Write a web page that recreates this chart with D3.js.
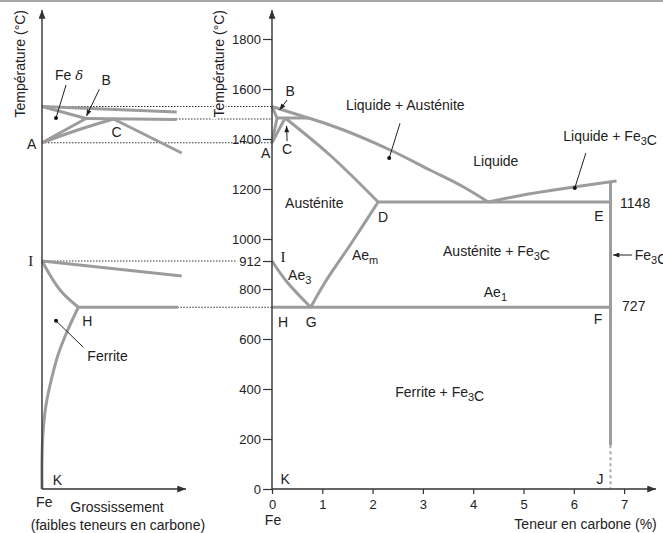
<!DOCTYPE html>
<html><head><meta charset="utf-8">
<script src="https://cdn.jsdelivr.net/npm/d3@7"></script>
<style>
body{margin:0;background:#fff}
svg text{font-family:"Liberation Sans",Arial,Helvetica,sans-serif;fill:#222}
</style>
</head><body>
<svg id="c" width="663" height="533"></svg>
<script>
// ---------- DATA ----------
// Temperature ticks (°C) and carbon ticks (%)
const ticksY = [0, 200, 400, 600, 800, 1000, 1200, 1400, 1600, 1800];
const extraTicksY = [912];
const ticksX = [0, 1, 2, 3, 4, 5, 6, 7];

// Right panel: [carbon %, T °C]
const liquidusR   = [[0,1530],[0.72,1484],[1.15,1456],[2.35,1356],[3.14,1276],[3.8,1209],[4.3,1148]];
const deltaSolR   = [[0,1530],[0.1,1484]];
const peritR      = [[0.1,1484],[0.72,1484]];
const gammaSolR   = [[0.26,1484],[1.15,1336],[2.11,1148]];
const deltaG1R    = [[0,1385],[0.1,1484]];
const deltaG2R    = [[0,1385],[0.26,1484]];
const eutecticR   = [[2.11,1148],[6.73,1148]];
const liqFe3CR    = [[4.3,1148],[5.1,1180],[6.0,1208],[6.85,1232]];
const cementiteR  = [[6.73,1232],[6.73,175]];
const cementiteDashR = [[6.73,175],[6.73,0]];
const eutectoidR  = [[0,727],[6.73,727]];
const ae3R        = [[0,912],[0.29,830],[0.77,727]];
const aemR        = [[0.77,727],[1.05,825],[1.6,990],[2.11,1148]];

// Left panel (magnified, relative units 0-100): [u, T °C]
const liquidusL   = [[0,1530],[94.2,1508]];
const deltaSolL   = [[0,1530],[30.8,1482]];
const peritL      = [[30.8,1482],[94.2,1478]];
const deltaG1L    = [[0,1385],[30.8,1482]];
const deltaG2L    = [[0,1385],[25,1436],[50,1480]];
const gammaSolL   = [[50,1480],[97.7,1344]];
const gammaAlphaL = [[0,912],[97.7,852]];
const ae3L        = [[0,912],[12.6,796],[25.4,727]];
const eutectoidL  = [[25.4,727],[95.1,727]];
const ferriteL    = [[25.4,727],[17.1,624],[11.2,536],[6.8,444],[2.8,336],[0.7,224],[0,116],[0,0]];

// Reference temperatures carried across panels (dotted)
const refTemps = [1530, 1480, 1385, 912, 727];

// ---------- SCALES ----------
const yT = d3.scaleLinear().domain([0,1800]).range([489,39]);
const xR = d3.scaleLinear().domain([0,7]).range([272,624.1]);
const xL = d3.scaleLinear().domain([0,100]).range([42,185]);

const svg = d3.select("#c");
svg.append("rect").attr("x",0).attr("y",0).attr("width",663).attr("height",2).attr("fill","#a6a6a6");

const defs = svg.append("defs");
defs.append("marker").attr("id","ax").attr("viewBox","0 0 10 8").attr("refX",10).attr("refY",4)
  .attr("markerWidth",10).attr("markerHeight",7).attr("markerUnits","userSpaceOnUse").attr("orient","auto")
  .append("path").attr("d","M0,0L10,4L0,8z").attr("fill","#333");
defs.append("marker").attr("id","pt").attr("viewBox","0 0 10 8").attr("refX",10).attr("refY",4)
  .attr("markerWidth",7).attr("markerHeight",5).attr("markerUnits","userSpaceOnUse").attr("orient","auto")
  .append("path").attr("d","M0,0L10,4L0,8z").attr("fill","#222");

const lineR = d3.line().x(d=>xR(d[0])).y(d=>yT(d[1]));
const lineL = d3.line().x(d=>xL(d[0])).y(d=>yT(d[1]));
const lineRc = d3.line().x(d=>xR(d[0])).y(d=>yT(d[1])).curve(d3.curveCatmullRom.alpha(0.5));
const lineRm = d3.line().x(d=>xR(d[0])).y(d=>yT(d[1])).curve(d3.curveMonotoneX);
const lineLc = d3.line().x(d=>xL(d[0])).y(d=>yT(d[1])).curve(d3.curveCatmullRom.alpha(0.5));

// ---------- DOTTED REFERENCE LINES ----------
const dotStarts = {1530: xL(0), 1480: xL(30.8), 1385: xL(0), 912: xL(0), 727: xL(25.4)};
const dotEnds = {1530: xR(0), 1480: xR(0), 1385: xR(0), 912: xR(0)-36, 727: xR(0)};
svg.append("g").selectAll("line").data(refTemps).join("line")
  .attr("x1",d=>dotStarts[d]).attr("x2",d=>dotEnds[d])
  .attr("y1",d=>yT(d)).attr("y2",d=>yT(d))
  .attr("stroke","#333").attr("stroke-width",1).attr("stroke-dasharray","1.5,1.5");

// ---------- THICK PHASE LINES ----------
const thick = svg.append("g").attr("fill","none").attr("stroke","#9c9c9c").attr("stroke-width",3)
  .attr("stroke-linejoin","round");
[liquidusL, deltaSolL, peritL, deltaG1L, gammaSolL, gammaAlphaL, eutectoidL].forEach(d=>thick.append("path").attr("d",lineL(d)));
[deltaG2L, ae3L, ferriteL].forEach(d=>thick.append("path").attr("d",lineLc(d)));
[deltaSolR, peritR, deltaG1R, deltaG2R, eutecticR, cementiteR, eutectoidR].forEach(d=>thick.append("path").attr("d",lineR(d)));
[gammaSolR, ae3R, aemR].forEach(d=>thick.append("path").attr("d",lineRc(d)));
[liquidusR, liqFe3CR].forEach(d=>thick.append("path").attr("d",lineRm(d)));
svg.append("path").attr("d",lineR(cementiteDashR)).attr("fill","none").attr("stroke","#aaa")
  .attr("stroke-width",2).attr("stroke-dasharray","3,3");

// ---------- AXES ----------
const font = '"Liberation Sans",Arial,Helvetica,sans-serif';
const gy = svg.append("g").attr("transform",`translate(${xR(0)},0)`)
  .call(d3.axisLeft(yT).tickValues(ticksY.concat(extraTicksY)).tickSize(9).tickPadding(2).tickFormat(d3.format("d")));
gy.select(".domain").remove();
gy.attr("font-family",font).attr("font-size",13);
gy.selectAll("line").attr("stroke","#333").attr("stroke-width",1.2);
gy.selectAll("text").attr("fill","#222");

const gx = svg.append("g").attr("transform",`translate(0,${yT(0)})`)
  .call(d3.axisBottom(xR).tickValues(ticksX).tickSize(5).tickPadding(6).tickFormat(d3.format("d")));
gx.select(".domain").remove();
gx.attr("font-family",font).attr("font-size",13);
gx.selectAll("line").attr("stroke","#333").attr("stroke-width",1.2);
gx.selectAll("text").attr("fill","#222");

const axisLines = [
  [xR(0), yT(0), xR(0), 10],
  [xR(0), yT(0), 656, yT(0)],
  [xL(0), yT(0), xL(0), 10],
  [xL(0), yT(0), 186, yT(0)]
];
svg.append("g").selectAll("line").data(axisLines).join("line")
  .attr("x1",d=>d[0]).attr("y1",d=>d[1]).attr("x2",d=>d[2]).attr("y2",d=>d[3])
  .attr("stroke","#333").attr("stroke-width",1.4).attr("marker-end","url(#ax)");

// axis titles
svg.append("text").attr("transform","translate(25,10) rotate(-90)").attr("text-anchor","end")
  .attr("font-size",14).text("Température (°C)");
svg.append("text").attr("transform","translate(224,10) rotate(-90)").attr("text-anchor","end")
  .attr("font-size",14).attr("stroke","#fff").attr("stroke-width",4).attr("paint-order","stroke")
  .text("Température (°C)");

// ---------- LABELS ----------
function label(x, y, str, anchor, opts={}) {
  const t = svg.append("text").attr("x",x).attr("y",y+5).attr("text-anchor",anchor||"start")
    .attr("font-size",opts.size||14);
  if (opts.serif) t.attr("style","font-family:'Liberation Serif','DejaVu Serif',serif");
  const parts = str.split(/(_.)/).filter(s=>s.length);
  parts.forEach(p=>{
    if (p[0]==="_") {
      t.append("tspan").attr("dy",4).attr("font-size",11).text(p[1]);
      t.append("tspan").attr("dy",-4).text("");
    } else t.append("tspan").text(p);
  });
  return t;
}

const labelsR = [
  ["B",0.36,1592,"middle"],["A",-0.125,1345,"middle"],["C",0.30,1360,"middle"],
  ["Liquide + Austénite",1.47,1536,"start"],["Liquide",4.45,1312,"middle"],
  ["Liquide + Fe_3C",5.79,1412,"start"],["Austénite",0.26,1144,"start"],
  ["D",2.21,1089,"middle"],["E",6.5,1092,"middle"],["1148",6.92,1146,"start"],
  ["Austénite + Fe_3C",3.40,952,"start"],["Ae_1",4.21,790,"start"],
  ["Fe_3C",7.21,936,"start"],["727",6.96,732,"start"],["F",6.48,680,"middle"],
  ["Ae_3",0.32,856,"start"],["Ae_m",1.59,936,"start"],
  ["H",0.22,668,"middle"],["G",0.78,668,"middle"],
  ["Ferrite + Fe_3C",2.45,388,"start"],["K",0.26,40,"middle"],["J",6.52,40,"middle"],
  ["Fe",0.02,-122,"middle"],["Teneur en carbone (%)",7.65,-140,"end"]
];
labelsR.forEach(d=>label(xR(d[1]), yT(d[2]), d[0], d[3]));
label(xR(0.22), yT(928), "I", "middle", {serif:true, size:15});

const labelsL = [
  ["B",44.8,1636,"middle"],["A",-7.2,1380,"middle"],["C",52.2,1429,"middle"],
  ["H",31.7,672,"middle"],["Ferrite",31.7,532,"start"],["K",10.7,36,"middle"],
  ["Fe",1.6,-51,"middle"],["Grossissement",52.4,-73,"middle"],
  ["(faibles teneurs en carbone)",53.1,-144,"middle"]
];
labelsL.forEach(d=>label(xL(d[1]), yT(d[2]), d[0], d[3]));
label(xL(-7.9), yT(912), "I", "middle", {serif:true, size:15});
const fd = label(xL(9.1), yT(1656), "Fe ", "start");
fd.append("tspan").attr("style","font-family:'DejaVu Serif',serif;font-style:italic").attr("font-size",13).text("δ");

// ---------- POINTERS ----------
const pointersR = [
  [0.30,1556,0.15,1516,"arrow"],[0.30,1392,0.29,1452,"arrow"],
  [2.545,1463,2.33,1324,"dot"],[6.24,1344,6.02,1204,"dot"],[7.16,936,6.78,936,"arrow"]
];
const pointersL = [
  [16.8,1616,9.8,1484,"dot"],[40.1,1599,31.1,1492,"arrow"],[28.9,567,9.8,673,"dot"]
];
function pointer(sx, d) {
  const l = svg.append("line").attr("x1",sx(d[0])).attr("y1",yT(d[1])).attr("x2",sx(d[2])).attr("y2",yT(d[3]))
    .attr("stroke","#222").attr("stroke-width",1);
  if (d[4]==="arrow") l.attr("marker-end","url(#pt)");
  else svg.append("circle").attr("cx",sx(d[2])).attr("cy",yT(d[3])).attr("r",2).attr("fill","#111");
}
pointersR.forEach(d=>pointer(xR,d));
pointersL.forEach(d=>pointer(xL,d));
</script>
</body></html>
